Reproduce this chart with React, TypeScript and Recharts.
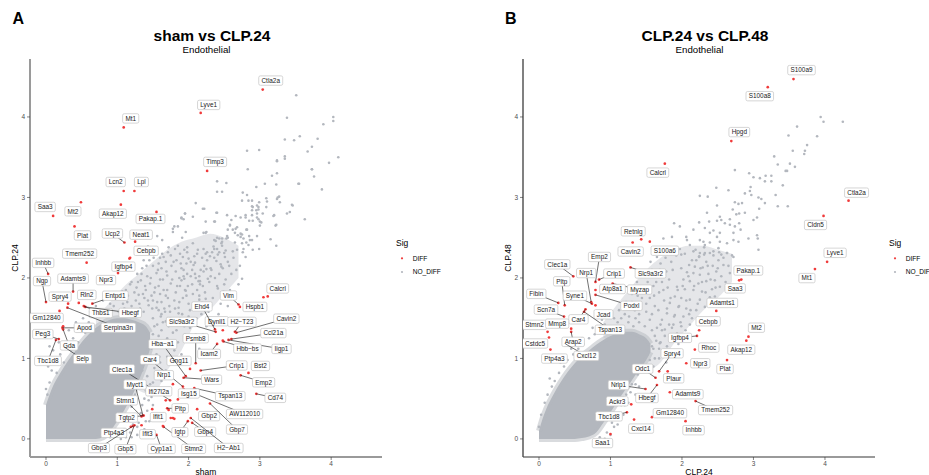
import React from 'react';
import { ComposedChart, Area, Scatter, XAxis, YAxis } from 'recharts';

const RED = '#F03A3A';
const GREY = '#B3B7BE';
const FONT = '"Liberation Sans", Arial, Helvetica, sans-serif';

type Pt = [number, number];
type Band = [number, number, number];
type Gene = { gene: string; x: number; y: number };

// ---------------- Panel A : sham vs CLP.24 ----------------
const ticksA = [0, 1, 2, 3, 4];

// dense core of NO_DIFF genes: [x, lowY, highY]
const coreA: Band[] = [
  [0, 0, 0.42], [0.1, 0, 0.66], [0.2, 0, 0.82], [0.3, 0, 0.96], [0.4, 0, 1.08],
  [0.5, 0, 1.2], [0.6, 0, 1.3], [0.7, 0, 1.38], [0.8, 0.02, 1.44], [0.9, 0.1, 1.48],
  [1.0, 0.22, 1.5], [1.1, 0.36, 1.5], [1.2, 0.52, 1.48], [1.3, 0.72, 1.45],
  [1.4, 0.95, 1.4], [1.46, 1.12, 1.32],
];
// medium density haze of NO_DIFF genes: [x, lowY, highY]
const hazeA: Band[] = [
  [0.7, 1.36, 1.5], [0.9, 1.3, 1.7], [1.1, 1.0, 1.9], [1.3, 0.6, 2.05], [1.5, 0.55, 2.2],
  [1.7, 0.85, 2.35], [1.9, 1.1, 2.45], [2.1, 1.45, 2.5], [2.3, 1.6, 2.55], [2.5, 1.8, 2.5], [2.7, 2.0, 2.4],
];

const noDiffMidA: Pt[] = [
  [1.45, 2.22], [1.52, 2.3], [1.6, 2.25], [1.68, 2.2], [1.75, 2.28], [1.83, 2.22], [1.88, 2.3], [2.0, 2.24], [2.12, 2.3], [1.37, 2.22], [1.43, 2.39], [1.65, 2.26],
  [1.28, 2.05], [1.35, 2.12], [1.42, 2.02], [1.5, 2.15], [1.55, 2.06], [1.62, 2.12], [1.7, 2.03], [1.76, 2.15], [1.82, 2.08], [1.9, 2.12], [1.98, 2.05], [2.05, 2.1], [2.15, 2.02], [2.22, 2.15], [1.58, 2.18], [1.87, 2.0],
  [1.12, 1.85], [1.2, 1.95], [1.27, 1.88], [1.33, 1.97], [1.4, 1.85], [1.46, 1.93], [1.52, 1.82], [1.58, 1.9], [1.64, 1.98], [1.7, 1.85], [1.75, 1.93], [1.82, 1.82], [1.88, 1.9], [1.96, 1.84], [2.05, 1.92], [2.12, 1.85], [2.2, 1.9], [1.36, 1.8], [1.6, 1.8], [1.9, 1.97],
  [0.95, 1.65], [1.02, 1.75], [1.08, 1.68], [1.15, 1.78], [1.2, 1.65], [1.26, 1.72], [1.32, 1.62], [1.38, 1.75], [1.44, 1.66], [1.5, 1.72], [1.55, 1.63], [1.62, 1.7], [1.68, 1.78], [1.73, 1.65], [1.8, 1.72], [1.86, 1.63], [1.92, 1.75], [2.0, 1.68], [2.08, 1.62], [2.15, 1.78], [1.1, 1.62], [1.3, 1.79], [1.48, 1.78], [1.66, 1.62],
  [1.5, 1.5], [1.56, 1.42], [1.62, 1.55], [1.68, 1.46], [1.74, 1.58], [1.8, 1.48], [1.86, 1.56], [1.92, 1.45], [2.0, 1.52], [2.08, 1.44], [2.18, 1.55], [2.3, 1.48], [1.58, 1.6], [1.72, 1.4], [2.42, 1.55],
  [1.5, 1.3], [1.56, 1.22], [1.62, 1.35], [1.7, 1.25], [1.78, 1.32], [1.85, 1.2], [1.95, 1.3], [2.05, 1.22], [1.48, 1.12], [1.55, 1.05], [1.62, 1.15], [1.7, 1.02], [1.8, 1.1], [1.45, 0.95], [1.52, 0.88], [1.6, 0.95], [1.68, 0.85], [1.42, 0.78], [1.5, 0.7], [1.58, 0.78], [1.4, 0.6], [1.48, 0.52], [1.35, 0.42], [1.42, 0.35], [1.3, 0.2], [1.38, 0.12], [1.28, 0.05], [1.25, 0.3], [1.45, 0.22], [1.55, 0.6], [1.9, 1.05], [2.2, 1.3], [2.15, 1.12],
  [0.02, 0.55], [0.05, 0.7], [0.0, 0.62], [0.08, 0.85], [0.12, 0.95], [0.15, 0.82], [0.2, 1.05], [0.25, 0.95], [0.28, 1.15], [0.35, 1.1], [0.38, 1.25], [0.45, 1.2], [0.48, 1.35], [0.55, 1.32], [0.6, 1.45], [0.65, 1.4], [0.72, 1.52], [0.78, 1.58], [0.85, 1.6], [0.9, 1.68], [0.03, 0.9], [0.1, 1.1], [0.18, 1.2], [0.32, 1.35], [0.42, 1.45], [0.52, 1.5], [0.62, 1.58], [0.7, 1.65], [0.8, 1.72], [0.0, 1.0], [0.05, 1.15],
  [0.9, 0.02], [1.0, 0.05], [1.1, 0.12], [1.15, 0.25], [1.2, 0.4], [1.25, 0.55], [1.3, 0.7], [1.35, 0.85], [1.4, 1.0], [1.45, 1.15], [1.05, 0.0], [1.18, 0.08], [1.22, 0.18],
  [1.02, 1.58], [1.07, 1.83], [1.14, 1.7], [1.18, 1.92], [1.23, 1.6], [1.24, 1.82], [1.29, 1.95], [1.31, 1.68], [1.34, 2.05], [1.37, 1.58], [1.39, 1.9], [1.41, 2.15], [1.43, 1.72], [1.47, 2.0], [1.49, 1.62], [1.51, 2.25], [1.53, 1.88], [1.56, 1.7], [1.57, 2.1], [1.6, 1.98], [1.61, 1.52], [1.63, 2.3], [1.65, 1.85], [1.67, 1.58], [1.69, 2.08], [1.71, 1.75], [1.72, 2.38], [1.74, 1.5], [1.77, 1.98], [1.79, 2.2], [1.81, 1.62], [1.84, 1.9], [1.85, 2.4], [1.87, 1.7], [1.89, 2.18], [1.91, 1.55], [1.93, 2.02], [1.97, 1.78], [1.98, 2.38], [2.02, 1.6], [2.03, 2.2], [2.06, 1.8], [2.09, 2.05], [2.11, 1.5], [2.13, 2.35], [2.16, 1.92], [2.18, 1.65], [2.21, 2.08], [2.23, 1.82], [2.26, 2.22], [2.28, 1.58], [2.29, 1.95], [2.32, 2.1], [2.34, 1.75], [2.36, 2.25], [2.4, 1.9], [2.43, 2.05], [2.45, 1.68], [2.52, 1.98], [2.55, 2.2], [2.58, 1.85], [2.6, 2.05], [2.63, 2.25], [2.7, 1.92], [2.72, 2.15],
  [1.52, 1.4], [1.58, 1.28], [1.64, 1.45], [1.66, 1.2], [1.73, 1.48], [1.76, 1.18], [1.83, 1.35], [1.88, 1.5], [1.94, 1.4], [2.02, 1.38], [2.1, 1.3], [2.25, 1.4], [2.35, 1.45], [1.53, 1.18], [1.59, 1.02], [1.47, 0.98], [1.54, 0.8], [1.62, 0.72], [1.46, 0.68], [1.5, 0.42], [1.44, 0.48], [1.38, 0.5], [1.33, 0.32], [1.28, 0.15], [1.4, 0.22], [1.34, 0.05], [1.2, 0.02], [1.12, 0.02],
];

const noDiffSparseA: Pt[] = [
  [3.51, 4.27], [3.38, 3.99], [4.03, 4.0], [4.03, 3.95], [3.89, 3.91], [3.35, 3.72], [3.48, 3.71], [3.56, 3.76], [3.81, 3.73], [3.73, 3.63], [3.67, 3.57], [2.82, 3.58], [2.99, 3.59], [3.35, 3.51], [3.35, 3.48], [3.24, 3.46], [4.1, 3.5], [3.97, 3.43], [2.83, 3.35], [3.73, 3.35], [3.76, 3.26], [3.24, 3.3], [3.17, 3.27], [3.87, 3.1], [3.55, 3.17], [3.23, 3.16], [3.07, 3.17], [2.95, 3.13], [2.4, 3.2], [2.4, 3.07], [2.47, 3.07], [2.76, 3.06], [2.82, 3.03], [2.75, 2.96], [2.89, 2.96], [2.99, 2.94], [3.09, 2.99], [3.25, 3.0], [3.46, 2.9], [2.9, 2.88], [2.98, 2.88], [3.09, 2.88], [2.1, 2.93], [2.2, 2.86], [2.4, 2.81], [2.54, 2.78], [2.66, 2.77], [2.8, 2.78], [2.89, 2.78], [2.96, 2.8], [3.0, 2.7], [2.96, 2.75], [3.2, 2.78], [3.38, 2.8], [3.63, 2.73], [3.23, 2.66], [1.95, 2.8], [1.9, 2.75], [2.06, 2.76], [1.8, 2.64], [1.85, 2.64], [2.24, 2.7], [2.36, 2.7], [2.58, 2.66], [2.62, 2.6], [2.55, 2.6], [2.68, 2.63], [2.73, 2.55], [2.82, 2.6], [1.78, 2.61], [1.78, 2.57], [2.86, 2.47], [2.75, 2.43], [2.96, 2.52], [3.0, 2.65], [2.36, 2.47], [2.4, 2.5], [2.47, 2.45], [2.54, 2.52], [2.55, 2.5], [2.21, 2.56], [2.24, 2.56], [2.06, 2.43], [1.63, 2.47], [1.71, 2.32], [1.81, 2.36], [1.98, 2.32], [1.56, 2.52], [2.24, 2.3], [2.33, 2.32], [2.43, 2.32], [2.5, 2.31], [2.62, 2.33], [2.68, 2.35], [3.23, 2.4],
  [3.24, 3.45], [3.73, 3.35], [3.54, 3.17], [2.53, 3.18], [2.84, 2.96], [2.89, 2.89], [3.1, 2.95], [3.24, 2.98], [3.27, 3.01], [3.28, 2.94], [3.45, 2.91], [3.42, 2.82], [3.19, 2.77], [3.22, 2.65], [2.96, 2.9], [2.98, 2.85], [2.89, 2.84], [2.95, 2.84], [3.04, 2.8], [2.98, 2.73], [3.02, 2.69], [2.9, 2.71], [2.85, 2.71], [2.8, 2.75], [2.73, 2.75], [2.6, 2.72], [2.58, 2.65], [2.66, 2.61], [2.65, 2.56], [2.69, 2.53], [2.75, 2.54], [2.81, 2.6], [2.85, 2.52], [2.73, 2.51], [2.77, 2.49], [2.81, 2.44], [2.89, 2.47], [2.84, 2.41], [2.99, 2.36], [2.9, 2.35], [3.15, 2.48], [2.77, 2.36], [2.76, 2.32], [2.8, 2.26], [2.65, 2.44], [2.53, 2.49], [2.47, 2.49], [2.46, 2.43], [2.43, 2.49], [2.38, 2.46], [2.35, 2.39], [2.36, 2.36], [2.4, 2.36], [2.47, 2.4], [2.52, 2.34], [2.51, 2.26], [2.41, 2.29], [2.3, 2.27], [2.26, 2.32], [2.21, 2.36], [2.19, 2.25], [2.39, 2.21], [2.45, 2.17], [2.46, 2.14], [2.57, 2.15], [2.67, 2.1], [2.75, 1.99], [2.48, 2.12], [2.31, 2.12], [2.25, 2.11], [2.17, 2.1], [2.09, 2.19], [2.07, 2.16], [2.03, 2.02], [2.1, 2.0], [2.14, 1.96], [2.16, 1.96], [2.27, 1.99], [2.31, 2.02], [2.37, 2.0], [2.5, 1.92], [2.41, 1.87], [2.49, 1.83], [2.55, 1.65], [2.24, 1.74], [2.15, 1.73], [2.19, 1.69], [1.99, 1.9], [1.95, 1.85], [1.94, 1.99], [1.93, 2.1], [1.92, 2.26], [1.94, 2.35], [1.91, 2.5], [1.9, 2.74], [1.93, 2.73], [1.95, 2.8], [2.22, 2.86], [2.39, 2.81], [2.37, 2.7], [2.25, 2.57], [1.96, 2.57], [2.08, 2.27], [1.97, 2.18],
];

const diffA: Gene[] = [
  { gene: 'Ctla2a', x: 3.04, y: 4.34 }, { gene: 'Lyve1', x: 2.17, y: 4.05 }, { gene: 'Mt1', x: 1.09, y: 3.87 },
  { gene: 'Timp3', x: 2.26, y: 3.33 }, { gene: 'Lcn2', x: 1.09, y: 3.08 }, { gene: 'Lpl', x: 1.24, y: 3.08 },
  { gene: 'Mt2', x: 0.49, y: 2.94 }, { gene: 'Saa3', x: 0.1, y: 2.77 }, { gene: 'Akap12', x: 1.05, y: 2.91 },
  { gene: 'Pakap.1', x: 1.55, y: 2.82 }, { gene: 'Plat', x: 0.4, y: 2.64 }, { gene: 'Ucp2', x: 1.1, y: 2.44 },
  { gene: 'Neat1', x: 1.25, y: 2.45 }, { gene: 'Cebpb', x: 1.18, y: 2.25 }, { gene: 'Igfbp4', x: 1.17, y: 2.24 },
  { gene: 'Npr3', x: 1.01, y: 2.06 }, { gene: 'Tmem252', x: 0.57, y: 2.19 }, { gene: 'Inhbb', x: 0.03, y: 2.05 },
  { gene: 'Ngp', x: 0.0, y: 1.7 }, { gene: 'Adamts9', x: 0.38, y: 1.83 }, { gene: 'Spry4', x: 0.31, y: 1.68 },
  { gene: 'Rln2', x: 0.46, y: 1.69 }, { gene: 'Entpd1', x: 0.65, y: 1.68 }, { gene: 'Thbs1', x: 0.53, y: 1.65 },
  { gene: 'Hbegf', x: 0.55, y: 1.64 }, { gene: 'Gm12840', x: 0.19, y: 1.59 }, { gene: 'Serpina3n', x: 0.3, y: 1.63 },
  { gene: 'Apod', x: 0.23, y: 1.38 }, { gene: 'Gda', x: 0.24, y: 1.36 }, { gene: 'Peg3', x: 0.18, y: 1.24 },
  { gene: 'Tbc1d8', x: 0.14, y: 1.23 }, { gene: 'Selp', x: 0.26, y: 1.14 }, { gene: 'Clec1a', x: 1.74, y: 0.48 },
  { gene: 'Ifi27l2a', x: 1.68, y: 0.48 }, { gene: 'Myct1', x: 1.36, y: 0.29 }, { gene: 'Stmn1', x: 1.34, y: 0.28 },
  { gene: 'Tgtp2', x: 1.37, y: 0.29 }, { gene: 'Ptp4a3', x: 1.19, y: 0.15 }, { gene: 'Gbp3', x: 1.22, y: 0.16 },
  { gene: 'Gbp5', x: 1.24, y: 0.17 }, { gene: 'Ifit3', x: 1.34, y: 0.17 }, { gene: 'Ifit1', x: 1.49, y: 0.37 },
  { gene: 'Pltp', x: 1.7, y: 0.38 }, { gene: 'Cyp1a1', x: 1.55, y: 0.05 }, { gene: 'Stmn2', x: 1.65, y: 0.15 },
  { gene: 'Igtp', x: 1.99, y: 0.22 }, { gene: 'Gbp4', x: 2.05, y: 0.2 }, { gene: 'H2\u2212Ab1', x: 2.03, y: 0.26 },
  { gene: 'Gbp2', x: 2.12, y: 0.37 }, { gene: 'Gbp7', x: 2.3, y: 0.44 }, { gene: 'AW112010', x: 1.93, y: 0.62 },
  { gene: 'Tspan13', x: 2.08, y: 0.63 }, { gene: 'Isg15', x: 1.85, y: 0.49 }, { gene: 'Car4', x: 1.92, y: 0.65 },
  { gene: 'Nrp1', x: 1.78, y: 0.68 }, { gene: 'Gng11', x: 2.02, y: 0.87 }, { gene: 'Wars', x: 1.93, y: 0.76 },
  { gene: 'Hba\u2212a1', x: 1.96, y: 0.78 }, { gene: 'Psmb8', x: 2.1, y: 0.94 }, { gene: 'Crip1', x: 2.17, y: 0.85 },
  { gene: 'Icam2', x: 2.4, y: 1.18 }, { gene: 'Slc9a3r2', x: 2.38, y: 1.33 }, { gene: 'Dynll1', x: 2.48, y: 1.35 },
  { gene: 'Ehd4', x: 2.37, y: 1.36 }, { gene: 'H2\u2212T23', x: 2.65, y: 1.33 }, { gene: 'Cavin2', x: 2.67, y: 1.32 },
  { gene: 'Ccl21a', x: 2.6, y: 1.24 }, { gene: 'Iigp1', x: 2.56, y: 1.23 }, { gene: 'Hbb\u2212bs', x: 2.49, y: 1.21 },
  { gene: 'Bst2', x: 2.84, y: 0.82 }, { gene: 'Emp2', x: 2.73, y: 0.79 }, { gene: 'Cd74', x: 2.95, y: 0.56 },
  { gene: 'Vim', x: 2.7, y: 1.67 }, { gene: 'Hspb1', x: 2.72, y: 1.64 }, { gene: 'Calcrl', x: 3.11, y: 1.77 },
];
const diffUnlabeledA: Pt[] = [[3.05, 1.76], [2.48, 1.22], [1.75, 0.26], [1.78, 0.26], [1.8, 0.25], [0.24, 1.4], [1.64, 0.16], [1.72, 0.36]];

const nudgeA: Record<string, [number, number]> = {
  Ctla2a: [8, -9], Lyve1: [8, -8], Mt1: [7, -9], Timp3: [8, -9], Lcn2: [-8, -9], Lpl: [7, -9], Mt2: [-8, 9], Saa3: [-8, -9],
  Akap12: [-8, 9], 'Pakap.1': [-6, 7], Plat: [8, 9], Ucp2: [-12, -9], Neat1: [6, -7], Cebpb: [16, -7], Igfbp4: [-6, 8],
  Npr3: [-12, 7], Tmem252: [-7, -9], Inhbb: [-5, -11], Ngp: [-4, -21], Adamts9: [0, -13], Spry4: [-8, -7], Rln2: [8, -8],
  Entpd1: [23, -8], Thbs1: [17, 7], Hbegf: [45, 6], Gm12840: [-13, 7], Serpina3n: [51, 20], Apod: [22, 0], Gda: [6, 16],
  Peg3: [-16, -5], Tbc1d8: [-8, 21], Selp: [18, 12], Clec1a: [-48, -31], Ifi27l2a: [-7, -9], Myct1: [-8, -31],
  Stmn1: [-16, -16], Tgtp2: [-17, 2], Ptp4a3: [-17, 6], Gbp3: [-34, 22], Gbp5: [-9, 24], Ifit3: [6, 9], Ifit1: [6, 8],
  Pltp: [13, 0], Cyp1a1: [5, 14], Stmn2: [30, 22], Igtp: [-8, 11], Gbp4: [13, 9], 'H2\u2212Ab1': [38, 30], Gbp2: [12, 7],
  Gbp7: [27, 26], AW112010: [61, 25], Tspan13: [36, 8], Isg15: [11, -6], Car4: [-33, -27], Nrp1: [-9, -9],
  Gng11: [-11, -8], Wars: [28, 2], 'Hba\u2212a1': [-23, -32], Psmb8: [0, -25], Crip1: [36, -5], Icam2: [-8, 10],
  Slc9a3r2: [-34, -10], Dynll1: [-6, -9], Ehd4: [-13, -23], 'H2\u2212T23': [7, -10], Cavin2: [50, -14], Ccl21a: [42, -6],
  Iigp1: [53, 9], 'Hbb\u2212bs': [24, 7], Bst2: [12, -7], Emp2: [23, 7], Cd74: [19, 4], Vim: [-10, -9], Hspb1: [15, 0],
  Calcrl: [10, -8],
};

// ---------------- Panel B : CLP.24 vs CLP.48 ----------------
const ticksB = [0, 1, 2, 3, 4];

const coreB: Band[] = [
  [0, 0, 0.1], [0.05, 0, 0.25], [0.1, 0, 0.37], [0.2, 0, 0.55], [0.3, 0, 0.7], [0.4, 0, 0.83],
  [0.5, 0, 0.94], [0.6, 0.01, 1.03], [0.7, 0.03, 1.1], [0.8, 0.08, 1.17], [0.9, 0.2, 1.23],
  [1.0, 0.33, 1.28], [1.1, 0.47, 1.31], [1.2, 0.6, 1.33], [1.3, 0.73, 1.33], [1.4, 0.86, 1.3],
  [1.5, 0.98, 1.25], [1.56, 1.08, 1.18],
];
const hazeB: Band[] = [
  [0.9, 1.25, 1.45], [1.1, 1.2, 1.68], [1.3, 1.0, 1.9], [1.5, 0.85, 2.1], [1.7, 0.95, 2.25],
  [1.9, 1.2, 2.35], [2.1, 1.4, 2.4], [2.3, 1.6, 2.4], [2.5, 1.75, 2.35], [2.7, 1.95, 2.3],
];

const noDiffMidB: Pt[] = [
  [2.24, 2.27], [2.31, 2.29], [2.39, 2.31], [2.52, 2.32], [2.63, 2.31], [2.2, 2.22], [2.34, 2.2], [2.51, 2.22], [2.1, 2.16], [2.18, 2.14], [2.29, 2.13], [2.43, 2.15], [2.58, 2.16],
  [2.07, 2.07], [2.16, 2.06], [2.25, 2.04], [2.37, 2.05], [2.48, 2.08], [2.67, 2.06], [2.02, 1.98], [2.11, 1.96], [2.23, 1.93], [2.34, 1.96], [2.46, 1.97],
  [1.93, 1.89], [2.04, 1.86], [2.16, 1.85], [2.28, 1.83], [2.42, 1.86], [2.53, 1.89], [1.9, 1.77], [1.99, 1.75], [2.11, 1.73], [2.25, 1.73], [2.39, 1.76],
  [1.83, 1.69], [1.95, 1.64], [2.06, 1.62], [2.2, 1.6], [2.32, 1.64], [2.46, 1.77], [1.79, 1.56], [1.9, 1.54], [2.02, 1.52], [2.14, 1.5], [1.88, 1.42], [1.99, 1.4], [2.11, 1.42],
  [1.76, 1.36], [1.83, 1.27], [1.93, 1.31], [1.69, 1.19], [1.79, 1.15],
  [1.2, 1.55], [1.28, 1.62], [1.35, 1.5], [1.42, 1.68], [1.5, 1.58], [1.55, 1.75], [1.62, 1.65], [1.68, 1.82], [1.75, 1.72], [1.1, 1.45], [1.18, 1.38], [1.25, 1.45], [1.32, 1.4], [1.4, 1.45], [1.48, 1.4], [1.55, 1.48],
  [1.45, 1.85], [1.52, 1.95], [1.6, 1.9], [1.66, 2.02], [1.72, 1.95], [1.78, 2.08], [1.58, 2.1], [1.7, 2.18], [1.85, 2.2], [1.8, 1.88], [1.38, 1.78], [1.3, 1.7], [1.0, 1.4], [1.05, 1.5], [0.95, 1.38], [1.12, 1.6], [1.22, 1.7],
  [1.62, 1.28], [1.7, 1.2], [1.75, 1.1], [1.68, 1.0], [1.78, 0.95], [1.6, 1.12], [1.85, 1.25], [1.9, 1.05], [1.95, 1.18], [1.72, 1.35], [1.82, 1.42], [1.6, 0.9], [1.65, 1.38],
  [0.0, 0.15], [0.03, 0.3], [0.08, 0.45], [0.12, 0.55], [0.18, 0.65], [0.22, 0.72], [0.28, 0.82], [0.35, 0.9], [0.4, 0.98], [0.48, 1.05], [0.55, 1.12], [0.62, 1.18], [0.7, 1.25], [0.78, 1.3], [0.85, 1.35], [0.92, 1.42], [0.3, 0.95], [0.45, 1.12], [0.6, 1.25], [0.15, 0.75], [0.75, 1.38], [0.88, 1.48],
  [0.85, 0.02], [0.95, 0.08], [1.02, 0.2], [1.08, 0.3], [1.15, 0.42], [1.22, 0.55], [1.3, 0.68], [1.38, 0.8], [1.45, 0.92], [1.52, 1.05], [1.58, 1.15], [0.92, 0.0], [1.1, 0.18], [1.25, 0.45], [1.4, 0.65], [1.5, 0.85], [1.62, 1.0], [1.18, 0.3], [1.35, 0.55],
  [1.15, 1.5], [1.2, 1.66], [1.26, 1.52], [1.3, 1.8], [1.34, 1.6], [1.37, 1.95], [1.4, 1.55], [1.44, 1.75], [1.46, 2.05], [1.5, 1.68], [1.53, 1.85], [1.56, 2.2], [1.58, 1.55], [1.61, 1.78], [1.64, 1.95], [1.67, 1.6], [1.69, 2.1], [1.72, 1.48], [1.74, 1.85], [1.77, 2.25], [1.79, 1.62], [1.82, 1.98], [1.84, 1.75], [1.87, 2.1], [1.89, 1.52], [1.92, 2.28], [1.94, 1.85], [1.96, 1.65], [1.99, 2.12], [2.01, 1.9], [2.04, 2.3], [2.06, 1.72], [2.09, 2.02], [2.12, 1.6], [2.14, 2.22], [2.17, 1.9], [2.19, 2.35], [2.22, 1.68], [2.26, 2.12], [2.28, 1.95], [2.31, 2.38], [2.33, 1.82], [2.36, 2.15], [2.4, 1.98], [2.44, 2.28], [2.47, 1.88], [2.5, 2.12], [2.55, 2.02], [2.58, 2.25], [2.61, 1.95], [2.65, 2.15], [2.7, 2.28], [2.75, 2.1],
  [1.58, 1.35], [1.64, 1.22], [1.7, 1.42], [1.76, 1.28], [1.8, 1.05], [1.86, 1.38], [1.92, 1.25], [1.98, 1.45], [2.05, 1.35], [2.1, 1.55], [1.55, 0.98], [1.48, 1.1], [1.42, 0.85], [1.35, 0.68], [1.28, 0.58], [1.2, 0.42], [1.12, 0.3], [1.05, 0.15], [1.0, 0.05], [1.68, 1.12],
];

const noDiffSparseB: Pt[] = [
  [3.94, 4.0], [3.98, 3.94], [4.25, 3.94], [3.61, 3.88], [3.49, 3.77], [3.89, 3.76], [3.75, 3.65], [3.55, 3.58], [3.72, 3.58], [3.71, 3.54], [3.29, 3.51], [3.51, 3.42], [3.34, 3.41], [3.58, 3.38], [3.45, 3.33], [3.47, 3.33], [2.74, 3.34], [2.94, 3.3], [3.0, 3.25], [3.09, 3.24], [3.17, 3.27], [3.25, 3.27], [3.16, 3.2], [3.25, 3.2], [3.41, 3.15], [2.96, 3.13], [2.95, 3.08], [2.48, 3.12], [2.65, 3.09], [2.88, 3.05], [2.36, 3.01], [2.25, 3.02], [2.97, 3.03], [3.07, 3.0], [3.11, 2.98], [3.16, 2.93], [3.31, 3.03], [3.34, 2.89], [3.48, 2.89], [2.49, 2.9], [2.74, 2.94], [2.79, 2.92], [2.84, 2.93], [2.71, 2.85], [2.76, 2.79], [2.8, 2.8], [2.88, 2.81], [3.08, 2.86], [3.0, 2.72], [3.05, 2.75], [2.35, 2.81], [2.53, 2.76], [2.6, 2.68], [2.67, 2.73], [2.67, 2.66], [2.82, 2.6], [2.72, 2.56], [2.8, 2.68], [2.93, 2.49], [3.05, 2.53], [3.06, 2.49], [3.07, 2.35], [2.63, 2.31], [2.51, 2.37], [2.44, 2.33], [2.25, 2.31], [2.25, 2.47], [2.39, 2.56], [2.32, 2.41],
  [2.24, 2.69], [2.38, 2.7], [2.49, 2.71], [2.55, 2.72], [1.89, 2.68], [1.97, 2.64], [2.16, 2.6], [2.32, 2.62], [2.44, 2.59], [2.53, 2.56], [2.74, 2.64], [1.74, 2.49], [1.86, 2.51], [2.06, 2.51], [2.07, 2.47], [2.11, 2.41], [2.3, 2.45], [2.39, 2.44], [2.49, 2.51], [2.53, 2.45], [2.63, 2.43], [2.72, 2.47], [2.79, 2.45], [1.97, 2.36], [1.99, 2.29], [2.16, 2.33], [2.24, 2.26], [2.32, 2.31], [2.55, 2.29], [2.72, 2.26], [1.65, 2.26], [1.74, 2.31],
];

const diffB: Gene[] = [
  { gene: 'S100a9', x: 3.56, y: 4.47 }, { gene: 'S100a8', x: 3.2, y: 4.37 }, { gene: 'Hpgd', x: 2.69, y: 3.7 },
  { gene: 'Calcrl', x: 1.76, y: 3.42 }, { gene: 'Ctla2a', x: 4.33, y: 2.96 }, { gene: 'Cldn5', x: 3.98, y: 2.77 },
  { gene: 'Lyve1', x: 4.03, y: 2.2 }, { gene: 'Mt1', x: 3.86, y: 2.11 }, { gene: 'Retnlg', x: 1.43, y: 2.48 },
  { gene: 'Cavin2', x: 1.31, y: 2.44 }, { gene: 'S100a6', x: 1.55, y: 2.45 }, { gene: 'Pakap.1', x: 2.83, y: 1.98 },
  { gene: 'Saa3', x: 2.8, y: 1.97 }, { gene: 'Adamts1', x: 2.48, y: 1.59 }, { gene: 'Cebpb', x: 2.24, y: 1.35 },
  { gene: 'Igfbp4', x: 2.21, y: 1.28 }, { gene: 'Rhoc', x: 2.18, y: 1.11 }, { gene: 'Mt2', x: 2.93, y: 1.27 },
  { gene: 'Akap12', x: 2.9, y: 1.22 }, { gene: 'Plat', x: 2.63, y: 0.98 }, { gene: 'Npr3', x: 2.06, y: 0.94 },
  { gene: 'Spry4', x: 1.68, y: 0.84 }, { gene: 'Odc1', x: 1.63, y: 0.76 }, { gene: 'Plaur', x: 1.8, y: 0.84 },
  { gene: 'Nrip1', x: 1.49, y: 0.62 }, { gene: 'Hbegf', x: 1.65, y: 0.67 }, { gene: 'Adamts9', x: 1.83, y: 0.58 },
  { gene: 'Tmem252', x: 2.19, y: 0.47 }, { gene: 'Gm12840', x: 1.58, y: 0.27 }, { gene: 'Inhbb', x: 2.05, y: 0.22 },
  { gene: 'Ackr3', x: 1.29, y: 0.43 }, { gene: 'Tbc1d8', x: 1.23, y: 0.33 }, { gene: 'Cxcl14', x: 1.33, y: 0.24 },
  { gene: 'Saa1', x: 1.0, y: 0.06 }, { gene: 'Clec1a', x: 0.48, y: 2.02 }, { gene: 'Emp2', x: 0.79, y: 1.95 },
  { gene: 'Nrp1', x: 0.73, y: 1.7 }, { gene: 'Crip1', x: 0.84, y: 1.98 }, { gene: 'Slc9a3r2', x: 1.28, y: 2.13 },
  { gene: 'Myzap', x: 1.03, y: 1.93 }, { gene: 'Atp8a1', x: 0.79, y: 1.85 }, { gene: 'Podxl', x: 0.79, y: 1.79 },
  { gene: 'Pltp', x: 0.36, y: 1.66 }, { gene: 'Fibin', x: 0.27, y: 1.69 }, { gene: 'Syne1', x: 0.74, y: 1.68 },
  { gene: 'Jcad', x: 0.79, y: 1.66 }, { gene: 'Scn7a', x: 0.35, y: 1.52 }, { gene: 'Car4', x: 0.65, y: 1.61 },
  { gene: 'Tspan13', x: 0.63, y: 1.58 }, { gene: 'Stmn2', x: 0.12, y: 1.33 }, { gene: 'Mmp8', x: 0.45, y: 1.37 },
  { gene: 'Arap2', x: 0.45, y: 1.33 }, { gene: 'Cstdc5', x: 0.14, y: 1.26 }, { gene: 'Ptp4a3', x: 0.16, y: 1.11 },
  { gene: 'Cxcl12', x: 0.37, y: 1.18 },
];
const diffUnlabeledB: Pt[] = [];

const nudgeB: Record<string, [number, number]> = {
  S100a9: [8, -9], S100a8: [-8, 9], Hpgd: [8, -9], Calcrl: [-7, 9], Ctla2a: [8, -8], Cldn5: [-8, 9], Lyve1: [8, -9],
  Mt1: [-8, 9], Retnlg: [-8, -8], Cavin2: [-2, 9], S100a6: [15, 9], 'Pakap.1': [7, -9], Saa3: [-4, 8], Adamts1: [6, -8],
  Cebpb: [9, -9], Igfbp4: [-17, 2], Rhoc: [14, -2], Mt2: [8, -9], Akap12: [-5, 9], Plat: [-2, 9], Npr3: [14, 0],
  Spry4: [13, -18], Odc1: [-13, -9], Plaur: [6, 7], Nrip1: [-27, -4], Hbegf: [-10, 13], Adamts9: [18, 2],
  Tmem252: [20, 9], Gm12840: [18, -4], Inhbb: [8, 9], Ackr3: [-14, -3], Tbc1d8: [-18, 4], Cxcl14: [7, 9], Saa1: [-8, 9],
  Clec1a: [-16, -12], Emp2: [4, -25], Nrp1: [-5, -29], Crip1: [15, -6], Slc9a3r2: [20, 6], Myzap: [27, 6],
  Atp8a1: [17, -1], Podxl: [36, 11], Pltp: [-3, -24], Fibin: [-22, -9], Syne1: [-17, -8], Jcad: [8, 9], Scn7a: [-18, -7],
  Car4: [-7, 10], Tspan13: [26, 18], Stmn2: [-13, -7], Mmp8: [-14, -5], Arap2: [2, 10], Cstdc5: [-14, 6],
  Ptp4a3: [4, 9], Cxcl12: [21, 12],
};

// ---------------- rendering helpers ----------------
const LABEL_FS = 6.4;
let measureCtx: CanvasRenderingContext2D | null = null;
function textWidth(s: string, size: number): number {
  if (!measureCtx && typeof document !== 'undefined') {
    measureCtx = document.createElement('canvas').getContext('2d');
  }
  if (measureCtx) {
    measureCtx.font = `${size}px ${FONT}`;
    return measureCtx.measureText(s).width;
  }
  return s.length * size * 0.55;
}

const dot = (r: number, fill: string) => (p: any) => {
  if (p.cx == null || p.cy == null || isNaN(p.cx)) return <g />;
  return <circle cx={p.cx} cy={p.cy} r={r} fill={fill} />;
};

const labelShape = (nudges: Record<string, [number, number]>) => (p: any) => {
  const { cx, cy, payload } = p;
  if (cx == null || isNaN(cx)) return <g />;
  const name: string = payload.gene;
  const n = nudges[name] || [0, -9];
  const lx = cx + n[0];
  const ly = cy + n[1];
  const w = textWidth(name, LABEL_FS) + 5.5;
  const h = 9.4;
  const gx = Math.max(0, Math.abs(n[0]) - w / 2);
  const gy = Math.max(0, Math.abs(n[1]) - h / 2);
  const showLine = Math.hypot(gx, gy) > 4.5;
  return (
    <g>
      {showLine && <line x1={cx} y1={cy} x2={lx} y2={ly} stroke="#111" strokeWidth={0.6} />}
      <rect x={lx - w / 2} y={ly - h / 2} width={w} height={h} rx={1.6} ry={1.6} fill="#fff" stroke="#C4C4C4" strokeWidth={0.7} />
      <text x={lx} y={ly + 2.25} textAnchor="middle" fontSize={LABEL_FS} fill="#1A1A1A" fontFamily={FONT}>{name}</text>
    </g>
  );
};

const toPts = (a: Pt[]) => a.map(([x, y]) => ({ x, y }));

function bandTable(core: Band[], haze: Band[]) {
  const xs = Array.from(new Set([...core.map((b) => b[0]), ...haze.map((b) => b[0])])).sort((a, b) => a - b);
  return xs.map((x) => {
    const c = core.find((b) => b[0] === x);
    const h = haze.find((b) => b[0] === x);
    return { x, core: c ? [c[1], c[2]] : null, haze: h ? [h[1], h[2]] : null };
  });
}

type PanelProps = {
  left: number;
  width: number;
  marginRight: number;
  core: Band[];
  haze: Band[];
  mid: Pt[];
  sparse: Pt[];
  diff: Gene[];
  diffExtra: Pt[];
  nudges: Record<string, [number, number]>;
  xDomain: [number, number];
  yDomain: [number, number];
  ticks: number[];
  yAxisColor: string;
  yAxisWidth: number;
};

function Panel(props: PanelProps) {
  const areaData = bandTable(props.core, props.haze);
  return (
    <div style={{ position: 'absolute', left: props.left, top: 0 }}>
      <ComposedChart width={props.width} height={475} data={areaData}
        margin={{ top: 59, right: props.marginRight, bottom: 0, left: 0 }}>
        <XAxis type="number" dataKey="x" domain={props.xDomain} ticks={props.ticks} allowDataOverflow
          height={18} tickSize={3} tickMargin={1.5}
          tick={{ fontSize: 6.5, fill: '#4D4D4D', fontFamily: FONT }}
          tickLine={{ stroke: '#333', strokeWidth: 0.6 }}
          axisLine={{ stroke: '#9A9A9A', strokeWidth: 2 }} />
        <YAxis type="number" dataKey="y" domain={props.yDomain} ticks={props.ticks} allowDataOverflow
          width={30} tickSize={3} tickMargin={2}
          tick={{ fontSize: 6.5, fill: '#4D4D4D', fontFamily: FONT }}
          tickLine={{ stroke: '#333', strokeWidth: 0.6 }}
          axisLine={{ stroke: props.yAxisColor, strokeWidth: props.yAxisWidth }} />
        <Area dataKey="haze" type="monotone" connectNulls stroke="none" fill={GREY} fillOpacity={0.34} isAnimationActive={false} dot={false} activeDot={false} />
        <Area dataKey="core" type="monotone" connectNulls stroke={GREY} strokeOpacity={0.5} strokeWidth={6} fill={GREY} fillOpacity={1} isAnimationActive={false} dot={false} activeDot={false} />
        <Scatter data={toPts(props.mid)} dataKey="y" fill={GREY} shape={dot(1.3, GREY)} isAnimationActive={false} />
        <Scatter data={toPts(props.sparse)} dataKey="y" fill={GREY} shape={dot(1.3, GREY)} isAnimationActive={false} />
        <Scatter data={toPts(props.diffExtra)} dataKey="y" fill={RED} shape={dot(1.35, RED)} isAnimationActive={false} />
        <Scatter data={props.diff} dataKey="y" fill={RED} shape={dot(1.35, RED)} isAnimationActive={false} />
        <Scatter data={props.diff} dataKey="y" fill={RED} shape={labelShape(props.nudges)} isAnimationActive={false} />
      </ComposedChart>
    </div>
  );
}

function Overlay() {
  const legend = (x: number) => (
    <g>
      <text x={x} y={246} fontSize={8.5} fill="#000" fontFamily={FONT}>Sig</text>
      <circle cx={x + 6} cy={258.3} r={1.1} fill={RED} />
      <text x={x + 16.7} y={260.6} fontSize={6.6} fill="#000" fontFamily={FONT}>DIFF</text>
      <circle cx={x + 6} cy={272} r={1.1} fill={GREY} />
      <text x={x + 16.7} y={274.4} fontSize={6.6} fill="#000" fontFamily={FONT}>NO_DIFF</text>
    </g>
  );
  return (
    <svg width={929} height={475} style={{ position: 'absolute', left: 0, top: 0, pointerEvents: 'none' }}>
      <text x={12.5} y={24} fontSize={16} fontWeight="bold" fontFamily={FONT}>A</text>
      <text x={505} y={24} fontSize={16} fontWeight="bold" fontFamily={FONT}>B</text>
      <text x={212} y={40.7} fontSize={15.5} fontWeight="bold" textAnchor="middle" fontFamily={FONT}>sham vs CLP.24</text>
      <text x={206.5} y={53.3} fontSize={9.7} textAnchor="middle" fontFamily={FONT}>Endothelial</text>
      <text x={705} y={40.7} fontSize={15.5} fontWeight="bold" textAnchor="middle" fontFamily={FONT}>CLP.24 vs CLP.48</text>
      <text x={699.5} y={53.3} fontSize={9.7} textAnchor="middle" fontFamily={FONT}>Endothelial</text>
      <text x={206} y={475} fontSize={8.5} textAnchor="middle" fontFamily={FONT}>sham</text>
      <text x={699} y={475} fontSize={8.5} textAnchor="middle" fontFamily={FONT}>CLP.24</text>
      <text x={18.3} y={258} fontSize={8.5} textAnchor="middle" fontFamily={FONT} transform="rotate(-90 18.3 258)">CLP.24</text>
      <text x={510.5} y={258} fontSize={8.5} textAnchor="middle" fontFamily={FONT} transform="rotate(-90 510.5 258)">CLP.48</text>
      {legend(396)}
      {legend(889)}
    </svg>
  );
}

export default function App() {
  return (
    <div style={{ position: 'fixed', left: 0, top: 0, width: 929, height: 475, overflow: 'hidden', background: '#fff', fontFamily: FONT }}>
      <Panel left={0} width={470} marginRight={88} core={coreA} haze={hazeA} mid={noDiffMidA} sparse={noDiffSparseA}
        diff={diffA} diffExtra={diffUnlabeledA} nudges={nudgeA}
        xDomain={[-0.2244, 4.713]} yDomain={[-0.2247, 4.72]} ticks={ticksA}
        yAxisColor="#9A9A9A" yAxisWidth={2} />
      <Panel left={493} width={436} marginRight={54} core={coreB} haze={hazeB} mid={noDiffMidB} sparse={noDiffSparseB}
        diff={diffB} diffExtra={diffUnlabeledB} nudges={nudgeB}
        xDomain={[-0.2238, 4.7]} yDomain={[-0.2247, 4.72]} ticks={ticksB}
        yAxisColor="#4A4A4A" yAxisWidth={1.4} />
      <Overlay />
    </div>
  );
}
